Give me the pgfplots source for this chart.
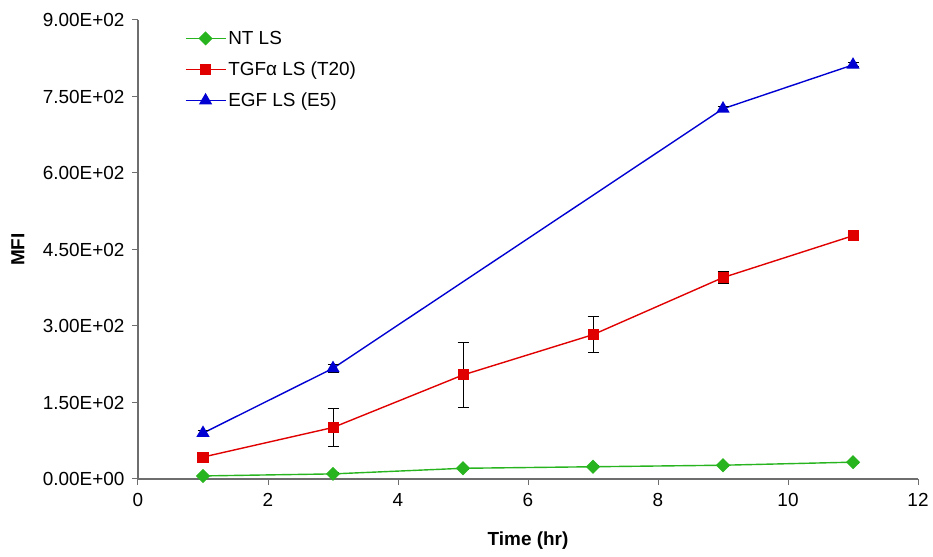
\documentclass[border=0pt]{standalone}
\usepackage{fontspec}
\setmainfont{Liberation Sans}
\usepackage{pgfplots}
\pgfplotsset{compat=1.18}
\definecolor{cg}{RGB}{40,180,30}
\definecolor{cr}{RGB}{225,0,0}
\definecolor{cb}{RGB}{0,0,210}
\definecolor{axg}{RGB}{110,110,110}
\newcommand{\fs}{\fontsize{19}{22}\selectfont}
\begin{document}
\begin{tikzpicture}[x=1bp,y=1bp]
\path (-138,-78) rectangle (795,479);
\begin{axis}[at={(0,0)},anchor=south west,
  scale only axis, width=780bp, height=459bp,
  xmin=0, xmax=12, ymin=0, ymax=900,
  axis x line*=bottom, axis y line*=left,
  axis line style={axg, line width=1.2bp},
  tick align=outside, major tick length=6bp,
  tick style={axg, line width=1bp},
  xtick={0,2,...,12}, xticklabels={0,2,4,6,8,10,12},
  ytick={0,150,...,900},
  yticklabels={0.00E+00,1.50E+02,3.00E+02,4.50E+02,6.00E+02,7.50E+02,9.00E+02},
  tick label style={font=\fs},
  xticklabel style={yshift=-5bp},
  yticklabel style={xshift=-4bp},
  xlabel={\textbf{Time (hr)}}, ylabel={\textbf{MFI}},
  label style={font=\fs},
  xlabel style={at={(axis description cs:0.5,-0.135)}, anchor=center},
  ylabel style={at={(axis description cs:-0.154,0.5)}, anchor=center, rotate=0},
  legend style={draw=none, fill=none, at={(0.056,0.985)}, anchor=north west, font=\fs, row sep=12bp},
  legend cell align=left,
  legend image code/.code={\draw[mark repeat=2,mark phase=2] plot coordinates {(0bp,0bp)(20bp,0bp)(40bp,0bp)};},
  every axis plot/.append style={line width=1.4bp},
  error bars/error bar style={black, line width=1bp},
  error bars/error mark options={rotate=90, black, mark size=5.5bp, line width=1bp},
]
\addplot[cg, mark=square*, mark size=4.3bp, mark options={fill=cg, rotate=45},
  error bars/.cd, y dir=both, y explicit]
  coordinates {(1,6) +- (0,1) (3,10) +- (0,2) (5,21) +- (0,2) (7,24) +- (0,2) (9,27) +- (0,2) (11,33) +- (0,2)};
\addlegendentry{NT LS}
\addplot[cr, mark=square*, mark size=4.8bp, mark options={fill=cr},
  error bars/.cd, y dir=both, y explicit]
  coordinates {(1,43) +- (0,9) (3,101) +- (0,37) (5,204) +- (0,63) (7,283) +- (0,35) (9,395) +- (0,12) (11,477) +- (0,2)};
\addlegendentry{TGFα LS (T20)}
\addplot[cb, mark=triangle*, mark size=6.3bp, mark options={fill=cb},
  error bars/.cd, y dir=both, y explicit]
  coordinates {(1,90) +- (0,6) (3,217) +- (0,8) (9,726) +- (0,5) (11,812) +- (0,4)};
\addlegendentry{EGF LS (E5)}
\end{axis}
\end{tikzpicture}
\end{document}
